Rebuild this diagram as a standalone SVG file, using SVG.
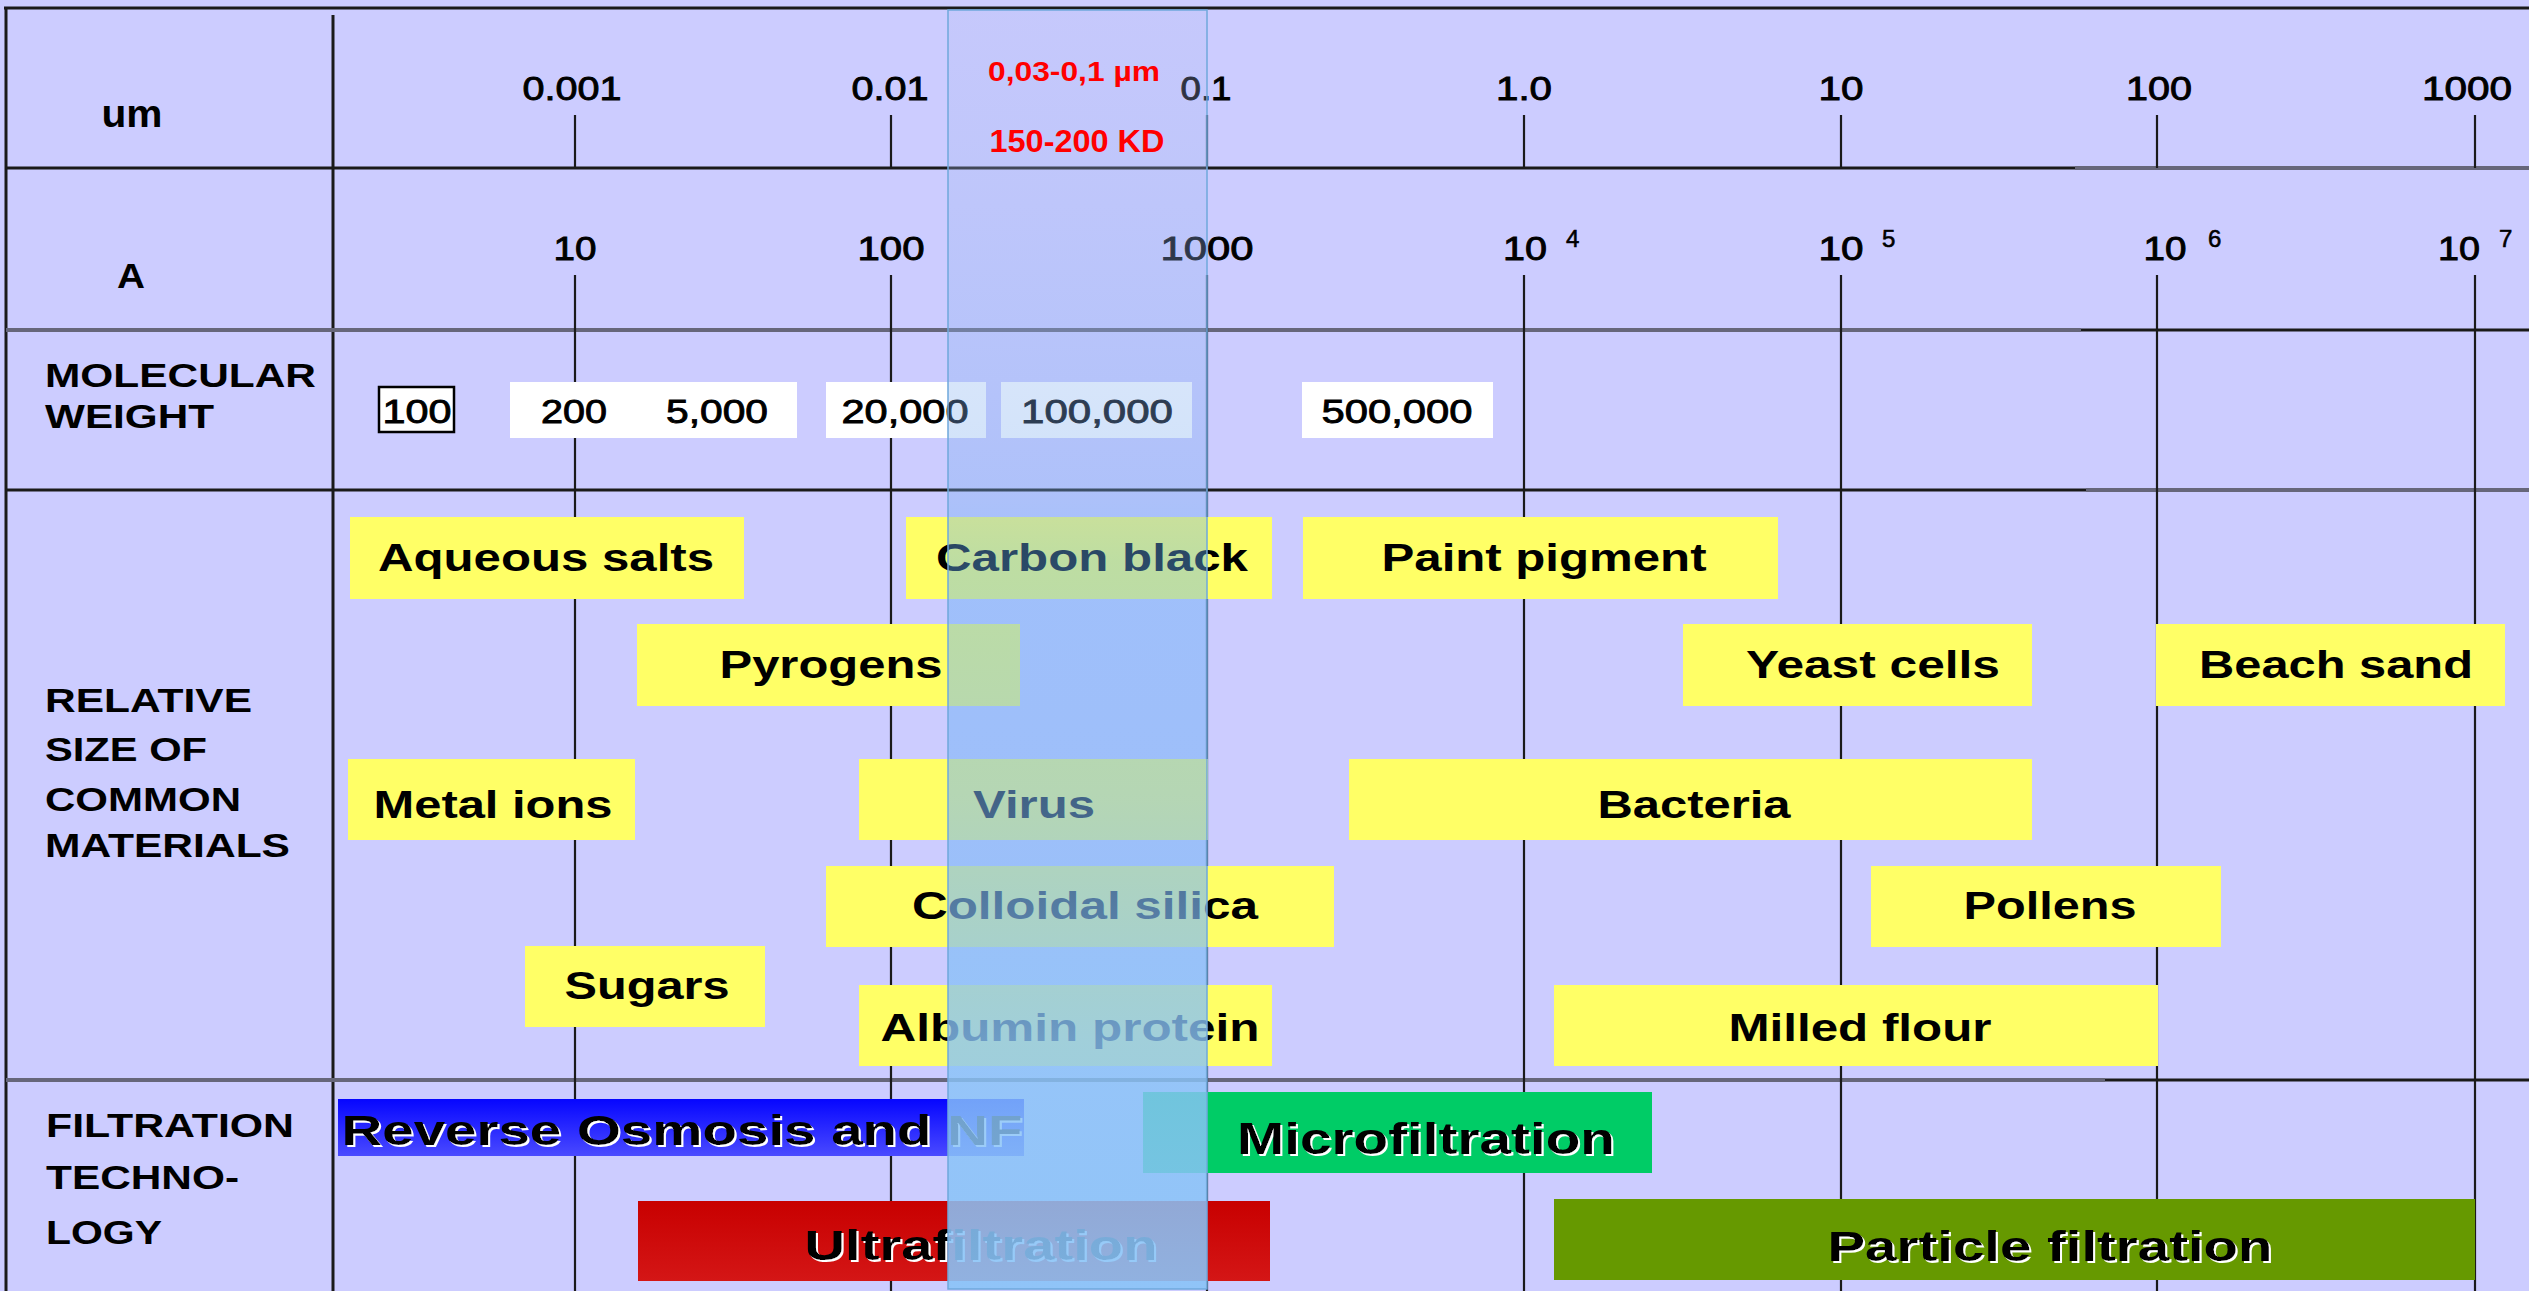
<svg xmlns="http://www.w3.org/2000/svg" width="2529" height="1291" viewBox="0 0 2529 1291">
<defs>
<style>
text{font-family:"Liberation Sans",Arial,sans-serif;fill:#000}
.tk{font-size:33px;text-anchor:middle;stroke:#000;stroke-width:0.9px}
.sup{font-size:24px;stroke:#000;stroke-width:0.6px}
.hd{font-size:33px;font-weight:bold}
.mw{font-size:34px;text-anchor:middle;stroke:#000;stroke-width:0.9px}
.mat{font-size:38px;font-weight:bold;text-anchor:middle}
.ft{font-size:42px;font-weight:bold;text-anchor:middle;filter:url(#ws)}
.red{fill:#FF0000;font-weight:bold;text-anchor:middle}
.yb{fill:#FFFF66}
.wb{fill:#FFFFFF}
.dk{stroke:#1a1a1a;stroke-width:3}
.gr{stroke:#66667a;stroke-width:4}
.vl{stroke:#1a1a1a;stroke-width:2.2}
</style>
<filter id="ws" x="-5%" y="-20%" width="110%" height="150%">
<feDropShadow dx="2" dy="2" stdDeviation="0.4" flood-color="#FFFFFF" flood-opacity="1"/>
</filter>
<linearGradient id="roG" x1="0" y1="0" x2="0" y2="1">
<stop offset="0" stop-color="#0606FF"/>
<stop offset="1" stop-color="#4A4AFF"/>
</linearGradient>
<linearGradient id="ufG" x1="0" y1="0" x2="0" y2="1">
<stop offset="0" stop-color="#C80000"/>
<stop offset="1" stop-color="#D41616"/>
</linearGradient>
<linearGradient id="bandG" gradientUnits="userSpaceOnUse" x1="0" y1="10" x2="0" y2="1289">
<stop offset="0" stop-color="#B4BEF2" stop-opacity="0.25"/>
<stop offset="0.375" stop-color="#7AAEF0" stop-opacity="0.36"/>
<stop offset="0.43" stop-color="#64AFF5" stop-opacity="0.42"/>
<stop offset="0.618" stop-color="#78B4F5" stop-opacity="0.55"/>
<stop offset="0.805" stop-color="#89C3F7" stop-opacity="0.8"/>
<stop offset="1" stop-color="#89C3F7" stop-opacity="0.9"/>
</linearGradient>
</defs>

<rect x="0" y="0" width="2529" height="1291" fill="#CCCCFF"/>

<g id="grid">
<line class="dk" x1="4" y1="8" x2="2529" y2="8"/>
<line class="dk" x1="6" y1="8" x2="6" y2="1291"/>
<line class="dk" x1="333" y1="15" x2="333" y2="1291"/>
<line class="dk" x1="6" y1="168" x2="2075" y2="168"/>
<line class="gr" x1="2075" y1="168" x2="2529" y2="168"/>
<line class="gr" x1="6" y1="330" x2="2081" y2="330"/>
<line class="dk" x1="2081" y1="330" x2="2529" y2="330"/>
<line class="dk" x1="6" y1="490" x2="2086" y2="490"/>
<line class="gr" x1="2086" y1="490" x2="2529" y2="490"/>
<line class="gr" x1="6" y1="1080" x2="2105" y2="1080"/>
<line class="dk" x1="2105" y1="1080" x2="2529" y2="1080"/>
<g id="ticks-um">
<line class="vl" x1="575" y1="115" x2="575" y2="168"/>
<line class="vl" x1="891" y1="115" x2="891" y2="168"/>
<line class="vl" x1="1207" y1="115" x2="1207" y2="168"/>
<line class="vl" x1="1524" y1="115" x2="1524" y2="168"/>
<line class="vl" x1="1841" y1="115" x2="1841" y2="168"/>
<line class="vl" x1="2157" y1="115" x2="2157" y2="168"/>
<line class="vl" x1="2475" y1="115" x2="2475" y2="168"/>
</g>
<g id="ticks-main">
<line class="vl" x1="575" y1="275" x2="575" y2="1291"/>
<line class="vl" x1="891" y1="275" x2="891" y2="1291"/>
<line class="vl" x1="1207" y1="275" x2="1207" y2="1291"/>
<line class="vl" x1="1524" y1="275" x2="1524" y2="1291"/>
<line class="vl" x1="1841" y1="275" x2="1841" y2="1291"/>
<line class="vl" x1="2157" y1="275" x2="2157" y2="1291"/>
<line class="vl" x1="2475" y1="275" x2="2475" y2="1291"/>
</g>
</g>

<g id="header-labels">
<text x="132" y="127" style="font-size:38px;font-weight:bold;text-anchor:middle" textLength="61" lengthAdjust="spacingAndGlyphs">um</text>
<text x="131" y="288" style="font-size:35px;font-weight:bold;text-anchor:middle" textLength="28" lengthAdjust="spacingAndGlyphs">A</text>
<text class="hd" x="45" y="387" textLength="271" lengthAdjust="spacingAndGlyphs">MOLECULAR</text>
<text class="hd" x="45" y="428" textLength="169" lengthAdjust="spacingAndGlyphs">WEIGHT</text>
<text class="hd" x="45" y="712" textLength="207" lengthAdjust="spacingAndGlyphs">RELATIVE</text>
<text class="hd" x="45" y="761" textLength="162" lengthAdjust="spacingAndGlyphs">SIZE OF</text>
<text class="hd" x="45" y="811" textLength="196" lengthAdjust="spacingAndGlyphs">COMMON</text>
<text class="hd" x="45" y="857" textLength="245" lengthAdjust="spacingAndGlyphs">MATERIALS</text>
<text class="hd" x="46" y="1137" textLength="248" lengthAdjust="spacingAndGlyphs">FILTRATION</text>
<text class="hd" x="46" y="1189" textLength="193" lengthAdjust="spacingAndGlyphs">TECHNO-</text>
<text class="hd" x="46" y="1244" textLength="116" lengthAdjust="spacingAndGlyphs">LOGY</text>
</g>

<g id="um-scale">
<text class="tk" x="572" y="100" textLength="99" lengthAdjust="spacingAndGlyphs">0.001</text>
<text class="tk" x="890" y="100" textLength="77" lengthAdjust="spacingAndGlyphs">0.01</text>
<text class="tk" x="1206" y="100" textLength="51" lengthAdjust="spacingAndGlyphs">0.1</text>
<text class="tk" x="1524" y="100" textLength="56" lengthAdjust="spacingAndGlyphs">1.0</text>
<text class="tk" x="1841" y="100" textLength="45" lengthAdjust="spacingAndGlyphs">10</text>
<text class="tk" x="2159" y="100" textLength="66" lengthAdjust="spacingAndGlyphs">100</text>
<text class="tk" x="2467" y="100" textLength="90" lengthAdjust="spacingAndGlyphs">1000</text>
</g>

<g id="angstrom-scale">
<text class="tk" x="575" y="260" textLength="43" lengthAdjust="spacingAndGlyphs">10</text>
<text class="tk" x="891" y="260" textLength="67" lengthAdjust="spacingAndGlyphs">100</text>
<text class="tk" x="1207" y="260" textLength="93" lengthAdjust="spacingAndGlyphs">1000</text>
<text class="tk" x="1525" y="260" textLength="44" lengthAdjust="spacingAndGlyphs">10</text>
<text class="sup" x="1566" y="247">4</text>
<text class="tk" x="1841" y="260" textLength="45" lengthAdjust="spacingAndGlyphs">10</text>
<text class="sup" x="1882" y="247">5</text>
<text class="tk" x="2165" y="260" textLength="43" lengthAdjust="spacingAndGlyphs">10</text>
<text class="sup" x="2208" y="247">6</text>
<text class="tk" x="2459" y="260" textLength="42" lengthAdjust="spacingAndGlyphs">10</text>
<text class="sup" x="2499" y="247">7</text>
</g>

<g id="mw-100">
<rect x="379" y="387" width="75" height="45" fill="#FFFFFF" stroke="#000" stroke-width="2.5"/>
<text class="mw" x="417" y="423" textLength="69" lengthAdjust="spacingAndGlyphs">100</text>
</g>
<g id="mw-200-5000">
<rect class="wb" x="510" y="382" width="287" height="56"/>
<text class="mw" x="574" y="423" textLength="66" lengthAdjust="spacingAndGlyphs">200</text>
<text class="mw" x="717" y="423" textLength="102" lengthAdjust="spacingAndGlyphs">5,000</text>
</g>
<g id="mw-20000">
<rect class="wb" x="826" y="382" width="160" height="56"/>
<text class="mw" x="905" y="423" textLength="127" lengthAdjust="spacingAndGlyphs">20,000</text>
</g>
<g id="mw-100000">
<rect class="wb" x="1001" y="382" width="191" height="56"/>
<text class="mw" x="1097" y="423" textLength="152" lengthAdjust="spacingAndGlyphs">100,000</text>
</g>
<g id="mw-500000">
<rect class="wb" x="1302" y="382" width="191" height="56"/>
<text class="mw" x="1397" y="423" textLength="151" lengthAdjust="spacingAndGlyphs">500,000</text>
</g>

<g id="aqueous-salts"><rect class="yb" x="350" y="517" width="394" height="82"/><text class="mat" x="546" y="571" textLength="336" lengthAdjust="spacingAndGlyphs">Aqueous salts</text></g>
<g id="carbon-black"><rect class="yb" x="906" y="517" width="366" height="82"/><text class="mat" x="1092" y="571" textLength="312" lengthAdjust="spacingAndGlyphs">Carbon black</text></g>
<g id="paint-pigment"><rect class="yb" x="1303" y="517" width="475" height="82"/><text class="mat" x="1544" y="571" textLength="325" lengthAdjust="spacingAndGlyphs">Paint pigment</text></g>
<g id="pyrogens"><rect class="yb" x="637" y="624" width="383" height="82"/><text class="mat" x="831" y="678" textLength="223" lengthAdjust="spacingAndGlyphs">Pyrogens</text></g>
<g id="yeast-cells"><rect class="yb" x="1683" y="624" width="349" height="82"/><text class="mat" x="1873" y="678" textLength="254" lengthAdjust="spacingAndGlyphs">Yeast cells</text></g>
<g id="beach-sand"><rect class="yb" x="2156" y="624" width="349" height="82"/><text class="mat" x="2336" y="678" textLength="274" lengthAdjust="spacingAndGlyphs">Beach sand</text></g>
<g id="metal-ions"><rect class="yb" x="348" y="759" width="287" height="81"/><text class="mat" x="493" y="818" textLength="239" lengthAdjust="spacingAndGlyphs">Metal ions</text></g>
<g id="virus"><rect class="yb" x="859" y="759" width="349" height="81"/><text class="mat" x="1034" y="818" textLength="122" lengthAdjust="spacingAndGlyphs">Virus</text></g>
<g id="bacteria"><rect class="yb" x="1349" y="759" width="683" height="81"/><text class="mat" x="1694" y="818" textLength="193" lengthAdjust="spacingAndGlyphs">Bacteria</text></g>
<g id="colloidal-silica"><rect class="yb" x="826" y="866" width="508" height="81"/><text class="mat" x="1085" y="919" textLength="346" lengthAdjust="spacingAndGlyphs">Colloidal silica</text></g>
<g id="pollens"><rect class="yb" x="1871" y="866" width="350" height="81"/><text class="mat" x="2050" y="919" textLength="173" lengthAdjust="spacingAndGlyphs">Pollens</text></g>
<g id="sugars"><rect class="yb" x="525" y="946" width="240" height="81"/><text class="mat" x="647" y="999" textLength="165" lengthAdjust="spacingAndGlyphs">Sugars</text></g>
<g id="albumin-protein"><rect class="yb" x="859" y="985" width="413" height="81"/><text class="mat" x="1070" y="1041" textLength="379" lengthAdjust="spacingAndGlyphs">Albumin protein</text></g>
<g id="milled-flour"><rect class="yb" x="1554" y="985" width="604" height="81"/><text class="mat" x="1860" y="1041" textLength="263" lengthAdjust="spacingAndGlyphs">Milled flour</text></g>

<g id="reverse-osmosis"><rect x="338" y="1099" width="686" height="57" fill="url(#roG)"/><text class="ft" x="682" y="1145" textLength="681" lengthAdjust="spacingAndGlyphs">Reverse Osmosis and NF</text></g>
<g id="microfiltration"><rect x="1143" y="1092" width="509" height="81" fill="#00CC66"/><text class="ft" x="1426" y="1154" style="font-size:45px" textLength="378" lengthAdjust="spacingAndGlyphs">Microfiltration</text></g>
<g id="ultrafiltration"><rect x="638" y="1201" width="632" height="80" fill="url(#ufG)"/><text class="ft" x="981" y="1260" textLength="353" lengthAdjust="spacingAndGlyphs">Ultrafiltration</text></g>
<g id="particle-filtration"><rect x="1554" y="1199" width="921" height="81" fill="#669900"/><text class="ft" x="2050" y="1261" style="font-size:43px" textLength="445" lengthAdjust="spacingAndGlyphs">Particle filtration</text></g>

<g id="highlight-band">
<rect x="948" y="10" width="259" height="1279" fill="url(#bandG)" stroke="#6FA8DC" stroke-width="1.5"/>
<text class="red" x="1074" y="81" style="font-size:27px" textLength="172" lengthAdjust="spacingAndGlyphs">0,03-0,1 µm</text>
<text class="red" x="1077" y="152" style="font-size:32px" textLength="175" lengthAdjust="spacingAndGlyphs">150-200 KD</text>
</g>
</svg>
